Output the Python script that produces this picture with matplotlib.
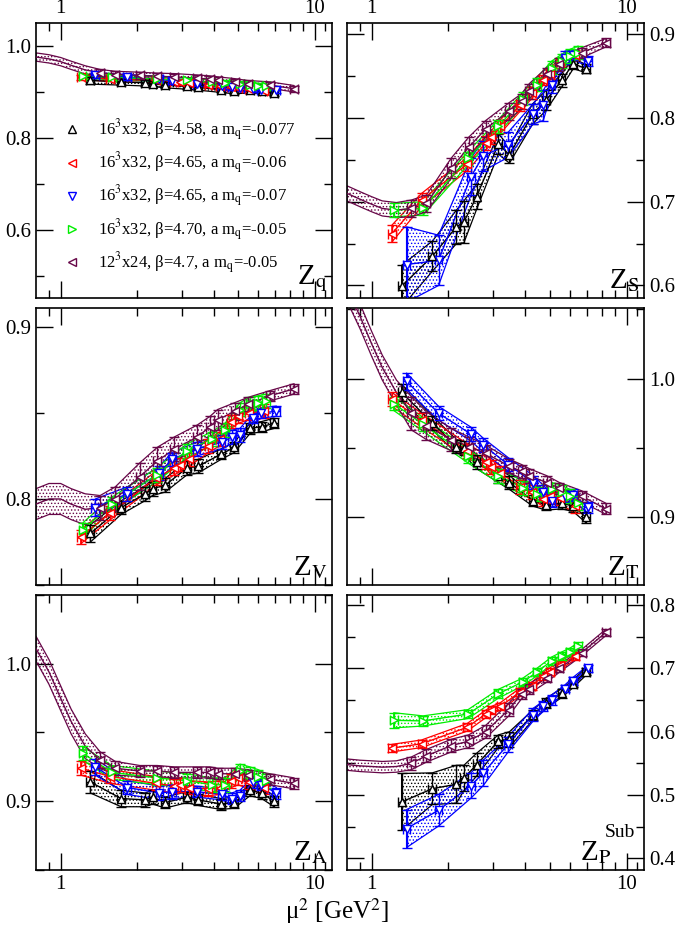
import numpy as np
import matplotlib.pyplot as plt
from matplotlib.lines import Line2D
from matplotlib.ticker import FixedLocator, MultipleLocator, NullFormatter, FormatStrFormatter

plt.rcParams['font.family'] = ['Liberation Serif', 'DejaVu Serif']
plt.rcParams['mathtext.fontset'] = 'stix'
plt.rcParams['hatch.linewidth'] = 0.6

# mu^2 [GeV^2] for each ensemble
x_black = [1.31, 1.73, 2.15, 2.30, 2.58, 3.14, 3.47, 4.28, 4.83, 5.56, 6.18, 6.92]
x_red = [1.20, 1.57, 2.37, 2.80, 2.95, 3.20, 3.82, 4.24, 4.70, 5.00, 5.50, 6.30]
x_blue = [1.37, 1.83, 2.45, 2.74, 3.43, 4.30, 4.71, 5.08, 5.73, 6.17, 7.07]
x_green = [1.22, 1.59, 2.39, 3.14, 3.93, 4.44, 5.08, 5.56, 5.99, 6.46]
x_maroon = [1.43, 1.64, 2.05, 2.40, 2.80, 3.45, 3.87, 4.15, 4.85, 5.45, 6.67, 8.3]
# the 12^3x24 fit band continues to low mu^2
x_maroon_ext = [0.8, 0.9, 1.0, 1.1, 1.25]

# Z_q
zq_black = [0.925, 0.922, 0.920, 0.918, 0.915, 0.912, 0.910, 0.905, 0.902, 0.904, 0.903, 0.897]
zq_black_err = [0.008, 0.007, 0.007, 0.006, 0.006, 0.006, 0.006, 0.006, 0.006, 0.006, 0.006, 0.006]
zq_red = [0.932, 0.928, 0.925, 0.922, 0.921, 0.920, 0.915, 0.912, 0.910, 0.908, 0.906, 0.903]
zq_red_err = [0.005] * 12
zq_blue = [0.936, 0.932, 0.928, 0.924, 0.918, 0.913, 0.910, 0.908, 0.906, 0.905, 0.904]
zq_blue_err = [0.006] * 11
zq_green = [0.934, 0.932, 0.928, 0.925, 0.921, 0.920, 0.918, 0.916, 0.914, 0.912]
zq_green_err = [0.005] * 10
zq_maroon = [0.942, 0.938, 0.936, 0.934, 0.933, 0.930, 0.928, 0.926, 0.922, 0.918, 0.915, 0.907]
zq_maroon_err = [0.007] * 12
zq_maroon_ext = [0.976, 0.972, 0.966, 0.958, 0.948]

# Z_S
zs_black = [0.599, 0.635, 0.670, 0.676, 0.706, 0.769, 0.756, 0.805, 0.821, 0.845, 0.865, 0.859]
zs_black_err = [0.025, 0.018, 0.020, 0.025, 0.015, 0.012, 0.010, 0.012, 0.012, 0.008, 0.006, 0.005]
zs_red = [0.662, 0.702, 0.745, 0.770, 0.777, 0.790, 0.815, 0.830, 0.845, 0.853, 0.866, 0.875]
zs_red_err = [0.010, 0.008, 0.008, 0.008, 0.008, 0.008, 0.007, 0.007, 0.006, 0.006, 0.006, 0.006]
zs_blue = [0.625, 0.630, 0.730, 0.755, 0.768, 0.805, 0.815, 0.840, 0.872, 0.875, 0.868]
zs_blue_err = [0.045, 0.030, 0.022, 0.018, 0.015, 0.012, 0.018, 0.010, 0.008, 0.006, 0.006]
zs_green = [0.690, 0.692, 0.752, 0.790, 0.823, 0.840, 0.860, 0.868, 0.874, 0.878]
zs_green_err = [0.008] * 10
zs_maroon = [0.692, 0.698, 0.740, 0.765, 0.787, 0.808, 0.820, 0.832, 0.852, 0.864, 0.878, 0.890]
zs_maroon_err = [0.010, 0.010, 0.012, 0.012, 0.010, 0.010, 0.009, 0.009, 0.008, 0.008, 0.006, 0.005]
zs_maroon_ext = [0.710, 0.703, 0.697, 0.692, 0.690]

# Z_V
zv_black = [0.780, 0.795, 0.803, 0.806, 0.808, 0.818, 0.819, 0.826, 0.830, 0.841, 0.842, 0.844]
zv_black_err = [0.005, 0.004, 0.004, 0.004, 0.004, 0.004, 0.004, 0.003, 0.003, 0.003, 0.003, 0.003]
zv_red = [0.778, 0.792, 0.812, 0.818, 0.820, 0.823, 0.831, 0.835, 0.845, 0.848, 0.850, 0.851]
zv_red_err = [0.004] * 12
zv_blue = [0.795, 0.803, 0.815, 0.823, 0.829, 0.833, 0.836, 0.837, 0.847, 0.850, 0.851]
zv_blue_err = [0.005, 0.004, 0.004, 0.004, 0.004, 0.004, 0.004, 0.004, 0.003, 0.003, 0.003]
zv_green = [0.782, 0.797, 0.814, 0.828, 0.835, 0.840, 0.852, 0.855, 0.856, 0.857]
zv_green_err = [0.004] * 10
zv_maroon = [0.795, 0.800, 0.813, 0.822, 0.829, 0.836, 0.842, 0.846, 0.851, 0.855, 0.860, 0.864]
zv_maroon_err = [0.007, 0.007, 0.008, 0.008, 0.007, 0.007, 0.006, 0.006, 0.005, 0.004, 0.003, 0.003]
zv_maroon_ext = [0.797, 0.800, 0.800, 0.797, 0.794]

# Z_T
zt_black = [0.990, 0.968, 0.951, 0.950, 0.940, 0.930, 0.925, 0.912, 0.909, 0.910, 0.908, 0.900]
zt_black_err = [0.006, 0.005, 0.005, 0.005, 0.005, 0.005, 0.005, 0.004, 0.004, 0.004, 0.004, 0.004]
zt_red = [0.985, 0.970, 0.948, 0.940, 0.936, 0.932, 0.922, 0.918, 0.913, 0.915, 0.914, 0.908]
zt_red_err = [0.005] * 12
zt_blue = [0.998, 0.975, 0.960, 0.952, 0.938, 0.925, 0.918, 0.912, 0.915, 0.916, 0.907]
zt_blue_err = [0.006, 0.005, 0.005, 0.005, 0.005, 0.005, 0.005, 0.005, 0.004, 0.004, 0.004]
zt_green = [0.982, 0.967, 0.944, 0.930, 0.921, 0.917, 0.920, 0.918, 0.915, 0.910]
zt_green_err = [0.005] * 10
zt_maroon = [0.975, 0.966, 0.956, 0.951, 0.946, 0.937, 0.933, 0.930, 0.925, 0.921, 0.915, 0.906]
zt_maroon_err = [0.012, 0.010, 0.008, 0.007, 0.006, 0.005, 0.005, 0.005, 0.005, 0.004, 0.004, 0.004]
zt_maroon_ext = [1.065, 1.045, 1.025, 1.008, 0.990]

# Z_A
za_black = [0.914, 0.902, 0.901, 0.903, 0.899, 0.903, 0.901, 0.898, 0.899, 0.908, 0.906, 0.900]
za_black_err = [0.008, 0.006, 0.005, 0.005, 0.004, 0.004, 0.004, 0.004, 0.004, 0.004, 0.004, 0.004]
za_red = [0.924, 0.918, 0.913, 0.911, 0.912, 0.910, 0.909, 0.910, 0.915, 0.917, 0.914, 0.910]
za_red_err = [0.005] * 12
za_blue = [0.925, 0.910, 0.906, 0.907, 0.907, 0.905, 0.902, 0.904, 0.914, 0.912, 0.906]
za_blue_err = [0.006, 0.005, 0.005, 0.005, 0.004, 0.004, 0.004, 0.004, 0.004, 0.004, 0.004]
za_green = [0.935, 0.921, 0.917, 0.915, 0.912, 0.912, 0.922, 0.920, 0.918, 0.915]
za_green_err = [0.005] * 10
za_maroon = [0.930, 0.924, 0.922, 0.922, 0.921, 0.921, 0.921, 0.920, 0.920, 0.919, 0.916, 0.913]
za_maroon_err = [0.006, 0.005, 0.004, 0.004, 0.004, 0.004, 0.004, 0.004, 0.004, 0.004, 0.004, 0.004]
za_maroon_ext = [1.011, 0.994, 0.975, 0.958, 0.940]

# Z_P^Sub
zp_black = [0.489, 0.510, 0.517, 0.527, 0.548, 0.585, 0.588, 0.626, 0.645, 0.661, 0.676, 0.695]
zp_black_err = [0.045, 0.025, 0.030, 0.020, 0.018, 0.010, 0.012, 0.008, 0.008, 0.007, 0.006, 0.006]
zp_red = [0.574, 0.581, 0.607, 0.628, 0.634, 0.640, 0.663, 0.672, 0.688, 0.695, 0.705, 0.720]
zp_red_err = [0.006] * 12
zp_blue = [0.447, 0.476, 0.515, 0.535, 0.580, 0.627, 0.640, 0.650, 0.668, 0.680, 0.700]
zp_blue_err = [0.030, 0.025, 0.020, 0.020, 0.012, 0.010, 0.008, 0.008, 0.006, 0.006, 0.005]
zp_green = [0.618, 0.617, 0.628, 0.660, 0.679, 0.694, 0.712, 0.720, 0.726, 0.735]
zp_green_err = [0.012, 0.008, 0.007, 0.007, 0.006, 0.006, 0.006, 0.006, 0.006, 0.006]
zp_maroon = [0.550, 0.562, 0.578, 0.585, 0.600, 0.635, 0.660, 0.668, 0.685, 0.700, 0.725, 0.757]
zp_maroon_err = [0.010, 0.010, 0.010, 0.010, 0.010, 0.010, 0.008, 0.008, 0.007, 0.006, 0.005, 0.005]
zp_maroon_ext = [0.548, 0.546, 0.545, 0.544, 0.545]

maroon_ext_hw = [0.009, 0.009, 0.009, 0.009, 0.009]

labels = [r'16$^3$x32, β=4.58, a m$_\mathrm{q}$=-0.077',
          r'16$^3$x32, β=4.65, a m$_\mathrm{q}$=-0.06',
          r'16$^3$x32, β=4.65, a m$_\mathrm{q}$=-0.07',
          r'16$^3$x32, β=4.70, a m$_\mathrm{q}$=-0.05',
          r'12$^3$x24, β=4.7, a m$_\mathrm{q}$=-0.05']
colors = ['black', 'red', 'blue', '#00ee00', '#670748']
markers = ['^', '<', 'v', '>', '<']


def draw_series(ax, x, y, e, color, marker, x_ext=None, y_ext=None, e_ext=None):
    x = np.array(x)
    y = np.array(y)
    e = np.array(e)
    if x_ext is not None:
        bx = np.r_[x_ext, x]
        by = np.r_[y_ext, y]
        be = np.r_[e_ext, e]
    else:
        bx, by, be = x, y, e
    ax.fill_between(bx, by - be, by + be, facecolor='none', edgecolor=color,
                    hatch='.....', linewidth=0.9, zorder=2)
    ax.plot(bx, by, color=color, lw=1.0, zorder=3)
    ax.errorbar(x, y, yerr=e, xerr=0.035 * x, fmt=marker, color=color, mfc='white',
                mec=color, ms=6, mew=1.0, capsize=3.5, elinewidth=1.0, capthick=1.0, zorder=4)


def draw_panel(ax, data):
    xs = [x_black, x_red, x_blue, x_green, x_maroon]
    for i in range(5):
        y, e = data[i]
        if i == 4:
            draw_series(ax, xs[i], y, e, colors[i], markers[i], x_maroon_ext, data[5], maroon_ext_hw)
        else:
            draw_series(ax, xs[i], y, e, colors[i], markers[i])


fig = plt.figure(figsize=(6.81, 9.34), dpi=100)
W, H = 681., 934.
cols = [(36, 332), (347, 644)]
rows = [(23, 298), (308, 585), (595, 870)]

panels = [
    ((zq_black, zq_black_err), (zq_red, zq_red_err), (zq_blue, zq_blue_err), (zq_green, zq_green_err), (zq_maroon, zq_maroon_err), zq_maroon_ext),
    ((zs_black, zs_black_err), (zs_red, zs_red_err), (zs_blue, zs_blue_err), (zs_green, zs_green_err), (zs_maroon, zs_maroon_err), zs_maroon_ext),
    ((zv_black, zv_black_err), (zv_red, zv_red_err), (zv_blue, zv_blue_err), (zv_green, zv_green_err), (zv_maroon, zv_maroon_err), zv_maroon_ext),
    ((zt_black, zt_black_err), (zt_red, zt_red_err), (zt_blue, zt_blue_err), (zt_green, zt_green_err), (zt_maroon, zt_maroon_err), zt_maroon_ext),
    ((za_black, za_black_err), (za_red, za_red_err), (za_blue, za_blue_err), (za_green, za_green_err), (za_maroon, za_maroon_err), za_maroon_ext),
    ((zp_black, zp_black_err), (zp_red, zp_red_err), (zp_blue, zp_blue_err), (zp_green, zp_green_err), (zp_maroon, zp_maroon_err), zp_maroon_ext),
]
ylims = [(0.452, 1.05), (0.585, 0.9135), (0.75, 0.911), (0.851, 1.051), (0.85, 1.05), (0.3815, 0.816)]
ymajor = [0.2, 0.1, 0.1, 0.1, 0.1, 0.1]
yminor = [0.1, 0.05, 0.05, 0.05, 0.05, 0.05]
names = [r'Z$_\mathrm{q}$', r'Z$_\mathrm{S}$', r'Z$_\mathrm{V}$', r'Z$_\mathrm{T}$', r'Z$_\mathrm{A}$', r'Z$_\mathrm{P}$']

axes = []
for k in range(6):
    r, c = k // 2, k % 2
    x0, x1 = cols[c]
    y0, y1 = rows[r]
    ax = fig.add_axes([x0 / W, 1 - y1 / H, (x1 - x0) / W, (y1 - y0) / H])
    axes.append(ax)
    draw_panel(ax, panels[k])
    ax.set_xscale('log')
    ax.set_xlim(0.8, 11.7)
    ax.set_ylim(*ylims[k])
    ax.xaxis.set_major_locator(FixedLocator([1, 10]))
    ax.xaxis.set_major_formatter(FormatStrFormatter('%g'))
    ax.xaxis.set_minor_locator(FixedLocator([0.9, 2, 3, 4, 5, 6, 7, 8, 9, 11]))
    ax.xaxis.set_minor_formatter(NullFormatter())
    ax.yaxis.set_major_locator(MultipleLocator(ymajor[k]))
    ax.yaxis.set_minor_locator(MultipleLocator(yminor[k]))
    ax.yaxis.set_major_formatter(FormatStrFormatter('%.1f'))
    ax.tick_params(which='both', direction='in', top=True, right=True, width=1.0, labelsize=15)
    ax.tick_params(which='major', length=12)
    ax.tick_params(which='minor', length=6)
    ax.tick_params(labeltop=(r == 0), labelbottom=(r == 2),
                   labelleft=(c == 0), labelright=(c == 1))
    for s in ax.spines.values():
        s.set_linewidth(1.2)
    if k == 5:
        ax.text(0.89, 0.015, names[k], transform=ax.transAxes, ha='right', va='bottom', fontsize=21)
        ax.text(0.868, 0.105, 'Sub', transform=ax.transAxes, ha='left', va='bottom', fontsize=14)
    else:
        ax.text(0.985, 0.015, names[k], transform=ax.transAxes, ha='right', va='bottom', fontsize=21)

handles = [Line2D([], [], marker=markers[i], ls='none', mfc='white', mec=colors[i], ms=6, mew=1.0)
           for i in range(5)]
axes[0].legend(handles, labels, loc='upper left', bbox_to_anchor=(0.07, 0.68), frameon=False,
               fontsize=12, handlelength=1.0, handletextpad=1.1, labelspacing=0.45, borderaxespad=0)

fig.text(337 / W, 1 - 911 / H, 'μ$^2$ [GeV$^2$]', ha='center', va='center', fontsize=18)

fig.savefig('out.png', dpi=100)
